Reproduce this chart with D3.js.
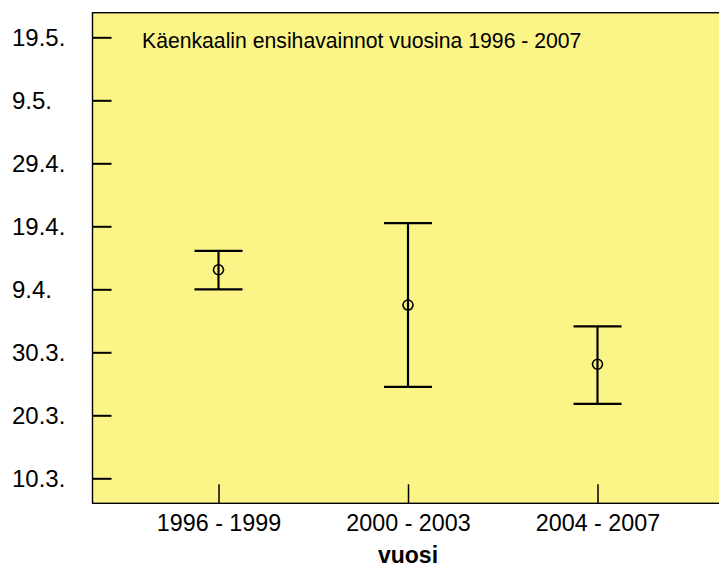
<!DOCTYPE html>
<html>
<head>
<meta charset="utf-8">
<script src="https://d3js.org/d3.v7.min.js"></script>
<style>
  body { margin: 0; background: #fff; }
  svg { display: block; }
  svg text { font-family: "Liberation Sans", Arial, sans-serif; }
</style>
</head>
<body>
<svg id="chart"></svg>
<script>
// first cuckoo sightings, day of year (non-leap), mean with range
const periods = ["1996 - 1999", "2000 - 2003", "2004 - 2007"];
const meanDay = [102.1, 96.5, 87.1];
const upperDay = [105.1, 109.5, 93.1];
const lowerDay = [99.0, 83.5, 80.8];

// y ticks: 10.3. ... 19.5. as day of year
const tickDays = [69, 79, 89, 99, 109, 119, 129, 139];
const tickLabels = ["10.3.", "20.3.", "30.3.", "9.4.", "19.4.", "29.4.", "9.5.", "19.5."];

const title = "Käenkaalin ensihavainnot vuosina 1996 - 2007";
const xTitle = "vuosi";

const width = 719, height = 567;
const plot = {left: 92.5, top: 12.7, bottom: 503.3, right: 723.5};

const svg = d3.select("#chart")
    .attr("width", width)
    .attr("height", height);

// yellow plot area with frame (right edge runs off the page)
svg.append("rect")
    .attr("x", plot.left)
    .attr("y", plot.top)
    .attr("width", plot.right - plot.left + 20)
    .attr("height", plot.bottom - plot.top)
    .attr("fill", "#fbf487")
    .attr("stroke", "#000")
    .attr("stroke-width", 1.4);

const yScale = d3.scaleLinear()
    .domain([69, 139])
    .range([478.3, 37.3]);

const xScale = d3.scalePoint()
    .domain(periods)
    .range([plot.left, plot.right])
    .padding(0.665);

// y axis, ticks pointing inward, labels left aligned
const yAxis = svg.append("g")
    .attr("transform", `translate(${plot.left},0)`)
    .call(d3.axisLeft(yScale)
        .tickValues(tickDays)
        .tickFormat((d, i) => tickLabels[i])
        .tickSize(-19));
yAxis.attr("font-family", null).attr("font-size", null);
yAxis.select(".domain").remove();
yAxis.selectAll(".tick line").attr("stroke", "#000").attr("stroke-width", 2);
yAxis.selectAll(".tick text")
    .attr("text-anchor", "start")
    .attr("x", 12 - plot.left)
    .attr("dy", "0.35em")
    .attr("fill", "#000")
    .style("font-size", "24px");

// x axis
const xAxis = svg.append("g")
    .attr("transform", `translate(0,${plot.bottom})`)
    .call(d3.axisBottom(xScale)
        .tickSize(-19)
        .tickPadding(11.5));
xAxis.attr("font-family", null).attr("font-size", null);
xAxis.select(".domain").remove();
xAxis.selectAll(".tick line").attr("stroke", "#000").attr("stroke-width", 1.5);
xAxis.selectAll(".tick text")
    .attr("fill", "#000")
    .style("font-size", "23.3px");

// x axis title
svg.append("text")
    .attr("x", (plot.left + plot.right) / 2)
    .attr("y", 562.5)
    .attr("text-anchor", "middle")
    .style("font-size", "23px")
    .style("font-weight", "bold")
    .text(xTitle);

// chart title inside plot
svg.append("text")
    .attr("x", 142)
    .attr("y", 47.5)
    .style("font-size", "21.2px")
    .text(title);

// error bars
const capHalf = 24;
const bars = svg.append("g")
    .attr("stroke", "#000")
    .attr("stroke-width", 2.2)
    .attr("fill", "none");

periods.forEach(function(p, i) {
    const x = xScale(p);
    bars.append("line")
        .attr("x1", x).attr("x2", x)
        .attr("y1", yScale(upperDay[i])).attr("y2", yScale(lowerDay[i]));
    bars.append("line")
        .attr("x1", x - capHalf).attr("x2", x + capHalf)
        .attr("y1", yScale(upperDay[i])).attr("y2", yScale(upperDay[i]));
    bars.append("line")
        .attr("x1", x - capHalf).attr("x2", x + capHalf)
        .attr("y1", yScale(lowerDay[i])).attr("y2", yScale(lowerDay[i]));
    bars.append("circle")
        .attr("cx", x)
        .attr("cy", yScale(meanDay[i]))
        .attr("r", 5)
        .attr("stroke-width", 1.6);
});
</script>
</body>
</html>
